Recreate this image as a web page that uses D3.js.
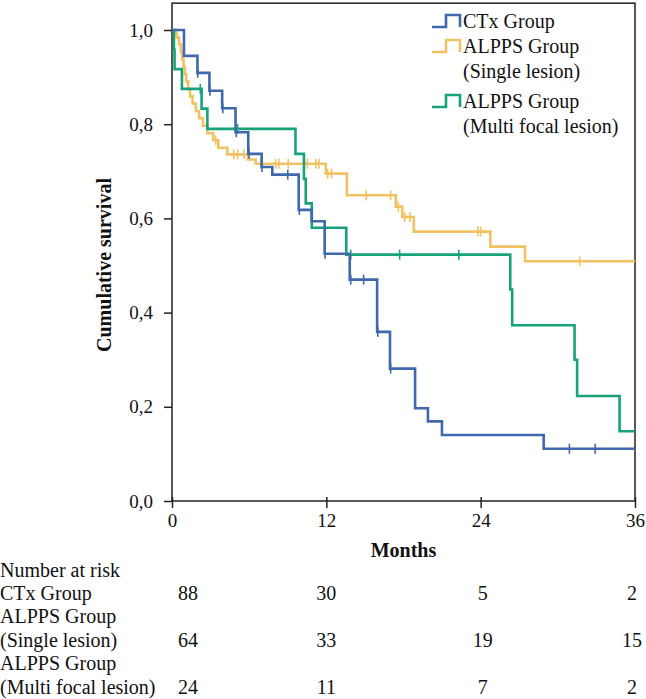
<!DOCTYPE html>
<html><head><meta charset="utf-8">
<script src="https://cdn.jsdelivr.net/npm/d3@7"></script>
<style>
html,body{margin:0;padding:0;background:#fff;}
svg{display:block;font-family:"Liberation Serif","Times New Roman",serif;}
</style></head>
<body><svg id="c" width="646" height="699"></svg>
<script>
// ---- data ----
const seriesNames = ["CTx Group", "ALPPS Group (Single lesion)", "ALPPS Group (Multi focal lesion)"];
const ctxTimes = [0, 0.93, 1.98, 2.91, 3.9, 4.94, 5.93, 6.97, 7.8, 9.85, 10.86, 11.87, 13.82, 15.95, 16.95, 18.9, 19.9, 20.99, 28.9, 36];
const ctxSurv  = [1.0, 0.945, 0.909, 0.871, 0.834, 0.783, 0.737, 0.709, 0.693, 0.618, 0.594, 0.525, 0.47, 0.359, 0.281, 0.197, 0.169, 0.14, 0.111, 0.111];
const ctxCensor = [2.0, 2.95, 3.95, 5.0, 6.0, 7.0, 9.0, 9.9, 11.9, 13.9, 14.9, 16.0, 17.0, 30.9, 32.9];

const singleTimes = [0, 0.35, 0.55, 0.7, 0.8, 0.9, 1.0, 1.1, 1.25, 1.4, 1.6, 1.85, 2.1, 2.4, 2.75, 3.2, 3.6, 4.3, 5.9, 6.5, 11.96, 13.6, 17.4, 17.9, 18.8, 24.75, 27.45, 36];
const singleSurv  = [1.0, 0.984, 0.969, 0.953, 0.938, 0.922, 0.906, 0.891, 0.875, 0.859, 0.844, 0.828, 0.813, 0.797, 0.781, 0.766, 0.75, 0.736, 0.725, 0.716, 0.695, 0.649, 0.625, 0.603, 0.572, 0.54, 0.509, 0.509];
const singleCensor = [3.4, 4.8, 5.1, 5.6, 6.9, 8.06, 8.32, 9.04, 10.27, 10.52, 11.18, 11.43, 12.1, 12.4, 15.1, 17.0, 17.6, 18.1, 18.5, 23.8, 24.0, 31.7];

const multiTimes = [0, 0.15, 0.2, 0.77, 2.3, 2.75, 9.6, 10.26, 10.4, 10.87, 13.55, 26.3, 26.45, 31.3, 31.5, 34.8, 36];
const multiSurv  = [1.0, 0.958, 0.917, 0.875, 0.833, 0.79, 0.737, 0.684, 0.632, 0.58, 0.523, 0.449, 0.373, 0.30, 0.223, 0.148, 0.148];
const multiCensor = [2.2, 5.1, 13.9, 17.7, 22.3];

const xTicks = [0, 12, 24, 36];
const yTicks = [0, 0.2, 0.4, 0.6, 0.8, 1.0];
const riskLabels = [["CTx Group"], ["ALPPS Group", "(Single lesion)"], ["ALPPS Group", "(Multi focal lesion)"]];
const riskCTx = [88, 30, 5, 2];
const riskSingle = [64, 33, 19, 15];
const riskMulti = [24, 11, 7, 2];
const colors = ["#3F68AD", "#F1C262", "#18A27A"];

// ---- chart ----
const svg = d3.select("#c");
const x = d3.scaleLinear().domain([0, 36]).range([172, 635]);
const y = d3.scaleLinear().domain([0, 1]).range([501, 30]);
const yTop = 1.057;

const series = [
  {name: seriesNames[0], t: ctxTimes, s: ctxSurv, c: ctxCensor, col: colors[0]},
  {name: seriesNames[1], t: singleTimes, s: singleSurv, c: singleCensor, col: colors[1]},
  {name: seriesNames[2], t: multiTimes, s: multiSurv, c: multiCensor, col: colors[2]}
];

// frame
svg.append("rect").attr("x", x(0)).attr("y", y(yTop)).attr("width", x(36) - x(0)).attr("height", y(0) - y(yTop))
  .attr("fill", "none").attr("stroke", "#222").attr("stroke-width", 1.5);

// axes
const gy = svg.append("g").attr("transform", `translate(${x(0)},0)`)
  .call(d3.axisLeft(y).tickValues(yTicks).tickSize(8).tickPadding(11).tickFormat(d => d.toFixed(1).replace(".", ",")));
gy.select(".domain").remove();
gy.selectAll(".tick line").attr("stroke", "#222").attr("stroke-width", 1.5);
gy.selectAll("text").attr("font-size", 19).attr("fill", "#111").attr("font-family", "Liberation Serif");

const gx = svg.append("g").attr("transform", `translate(0,${y(0)})`)
  .call(d3.axisBottom(x).tickValues(xTicks).tickSize(7).tickPadding(6).tickFormat(d3.format("d")));
gx.select(".domain").remove();
gx.selectAll(".tick line").attr("stroke", "#222").attr("stroke-width", 1.5).attr("y1", -4);
gx.selectAll("text").attr("font-size", 19).attr("fill", "#111").attr("font-family", "Liberation Serif");

// curves
const line = d3.line().x(d => x(d[0])).y(d => y(d[1])).curve(d3.curveStepAfter);
[1, 2, 0].forEach(i => {
  const s = series[i];
  const pts = s.t.map((t, k) => [t, s.s[k]]);
  svg.append("path").datum(pts).attr("d", line).attr("fill", "none")
    .attr("stroke", s.col).attr("stroke-width", 2.6);
  const survAt = t => { let v = s.s[0]; for (let k = 0; k < s.t.length; k++) { if (s.t[k] <= t) v = s.s[k]; } return v; };
  svg.append("g").selectAll("line").data(s.c).join("line")
    .attr("x1", d => x(d)).attr("x2", d => x(d))
    .attr("y1", d => y(survAt(d)) - 5).attr("y2", d => y(survAt(d)) + 5)
    .attr("stroke", s.col).attr("stroke-width", 1.6);
});

// axis titles
svg.append("text").attr("x", x(18)).attr("y", 550).attr("text-anchor", "middle").attr("dominant-baseline", "central")
  .attr("font-weight", "bold").attr("font-size", 20).attr("fill", "#111").text("Months");
svg.append("text").attr("transform", `translate(104,265) rotate(-90)`).attr("text-anchor", "middle").attr("dominant-baseline", "central")
  .attr("font-weight", "bold").attr("font-size", 20).attr("fill", "#111").text("Cumulative survival");

// legend
const legend = [
  {col: colors[0], lines: ["CTx Group"], y: 21},
  {col: colors[1], lines: ["ALPPS Group", "(Single lesion)"], y: 46},
  {col: colors[2], lines: ["ALPPS Group", "(Multi focal lesion)"], y: 101}
];
legend.forEach(l => {
  const lx = 432, w = 28, h = 12;
  svg.append("path").attr("d", `M${lx},${l.y + 6} H${lx + w / 2} V${l.y + 6 - h} H${lx + w} V${l.y + 6}`)
    .attr("fill", "none").attr("stroke", l.col).attr("stroke-width", 2.6);
  l.lines.forEach((t, k) => {
    svg.append("text").attr("x", 463).attr("y", l.y + k * 25).attr("dominant-baseline", "central")
      .attr("font-size", 20).attr("fill", "#111").text(t);
  });
});

// risk table (baselines)
const riskRows = [
  {labels: riskLabels[0], vals: riskCTx, y: 600},
  {labels: riskLabels[1], vals: riskSingle, y: 623},
  {labels: riskLabels[2], vals: riskMulti, y: 670}
];
svg.append("text").attr("x", 0).attr("y", 577).attr("font-size", 20).attr("fill", "#111").text("Number at risk");
const colX = [x(0) + 16, x(12), x(24) + 2, x(36) - 3];
riskRows.forEach(r => {
  r.labels.forEach((t, k) => {
    svg.append("text").attr("x", 0).attr("y", r.y + k * 23.5)
      .attr("font-size", 20).attr("fill", "#111").text(t);
  });
  const vy = r.y + (r.labels.length - 1) * 23.5;
  r.vals.forEach((v, k) => {
    svg.append("text").attr("x", colX[k]).attr("y", vy).attr("text-anchor", "middle")
      .attr("font-size", 20).attr("fill", "#111").text(v);
  });
});
</script></body></html>
